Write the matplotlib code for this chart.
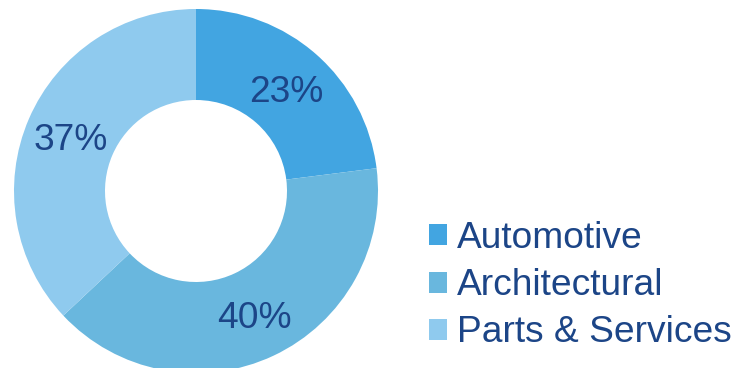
import matplotlib.pyplot as plt

plt.rcParams['font.family'] = ['Liberation Sans', 'DejaVu Sans']

segments = ["Automotive", "Architectural", "Parts & Services"]
shares = [23, 40, 37]
colors = ["#42a5e1", "#69b7de", "#8fcaee"]
text_color = "#1c4587"

fig = plt.figure(figsize=(7.35, 3.68), dpi=100)
ax = fig.add_axes([0, 0, 1, 1])

wedges, _, pcts = ax.pie(shares, colors=colors, startangle=90, counterclock=False,
                         center=(196, 177), radius=182,
                         autopct=lambda p: "%d%%" % round(p),
                         pctdistance=0.75,
                         wedgeprops=dict(width=91, linewidth=0),
                         textprops=dict(color=text_color, fontsize=26.7))
# nudge the percentages down a touch so the digits sit centred in the ring
for t in pcts:
    x, y = t.get_position()
    t.set_position((x, y - 4))

ax.set_xlim(0, 735)
ax.set_ylim(0, 368)
ax.set_aspect('equal')
ax.axis('off')

leg = ax.legend(wedges, segments, loc='upper left', bbox_to_anchor=(429 / 735, 1 - 221 / 368),
                frameon=False, fontsize=26.7, handlelength=0.49, handleheight=0.49,
                handletextpad=0.27, labelspacing=0.33, borderpad=0, borderaxespad=0)
for t in leg.get_texts():
    t.set_color(text_color)

fig.savefig("out.png", dpi=100)
